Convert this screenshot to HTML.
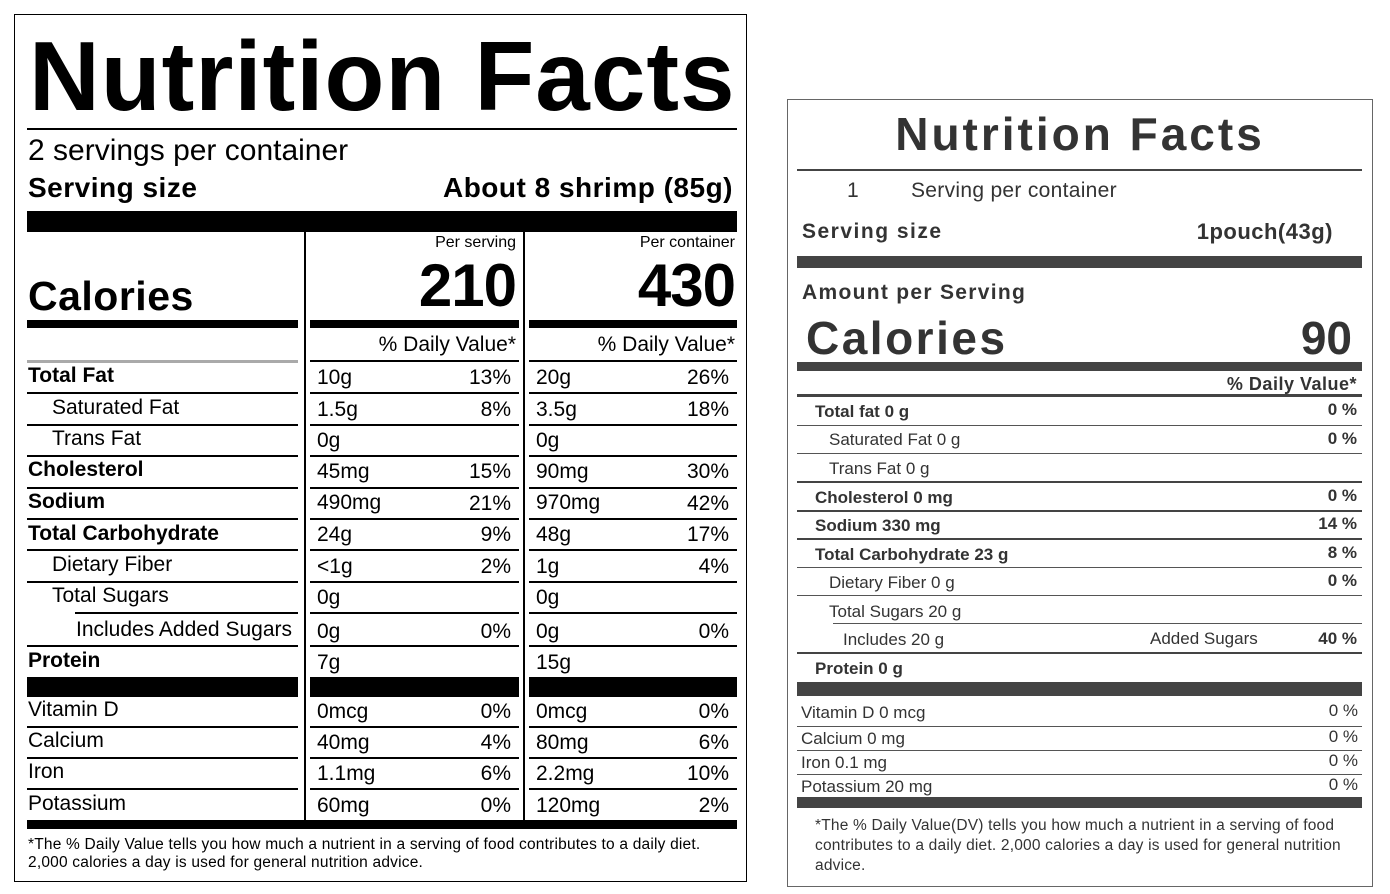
<!DOCTYPE html>
<html><head><meta charset="utf-8"><style>
body{margin:0;width:1390px;height:894px;background:#fff;position:relative;overflow:hidden;font-family:"Liberation Sans",Arial,sans-serif;}
.a{position:absolute;white-space:nowrap;}
.l{position:absolute;}
.n{font-size:21px;letter-spacing:0px;line-height:20px;}
.r{font-size:17px;line-height:16px;color:#333;}
</style></head><body>
<!-- LEFT PANEL -->
<div class="l" style="left:14px;top:14px;width:731px;height:866px;border:1.5px solid #000;"></div>
<div class="a" style="left:29px;top:26px;font-size:98px;font-weight:bold;letter-spacing:1px;line-height:100px;">Nutrition Facts</div>
<div class="l" style="left:27px;top:128px;width:710px;height:2px;background:#000"></div>
<div class="a" style="left:28px;top:136px;font-size:30px;line-height:30px;">2 servings per container</div>
<div class="a" style="left:28px;top:173px;font-size:28px;font-weight:bold;line-height:30px;letter-spacing:0.5px">Serving size</div>
<div class="a" style="right:657px;top:173px;font-size:28px;font-weight:bold;line-height:30px;letter-spacing:0.5px">About 8 shrimp (85g)</div>
<div class="l" style="left:27px;top:211px;width:710px;height:21px;background:#000"></div>
<div class="l" style="left:304px;top:232px;width:2px;height:588px;background:#000"></div>
<div class="l" style="left:523px;top:232px;width:2px;height:588px;background:#000"></div>
<div class="a" style="right:874px;top:234px;font-size:16px;">Per serving</div>
<div class="a" style="right:655px;top:234px;font-size:16px;">Per container</div>
<div class="a" style="right:874px;top:255px;font-size:60px;font-weight:bold;line-height:62px;letter-spacing:-1px;">210</div>
<div class="a" style="right:655px;top:255px;font-size:60px;font-weight:bold;line-height:62px;letter-spacing:-1px;">430</div>
<div class="a" style="left:28px;top:274px;font-size:41px;font-weight:bold;line-height:44px;letter-spacing:0.5px">Calories</div>
<div class="l" style="left:27px;top:320px;width:271px;height:8px;background:#000"></div>
<div class="l" style="left:310px;top:320px;width:209px;height:8px;background:#000"></div>
<div class="l" style="left:529px;top:320px;width:208px;height:8px;background:#000"></div>
<div class="a n" style="right:874px;top:335px;">% Daily Value*</div>
<div class="a n" style="right:655px;top:335px;">% Daily Value*</div>
<div class="l" style="left:27px;top:360px;width:271px;height:3px;background:#aaa"></div>
<div class="l" style="left:310px;top:360px;width:209px;height:2px;background:#000"></div>
<div class="l" style="left:529px;top:360px;width:208px;height:2px;background:#000"></div>

<div class="a n" style="left:28px;top:366px;font-weight:bold">Total Fat</div>
<div class="a n" style="left:317px;top:368px">10g</div><div class="a n" style="right:879px;top:368px">13%</div>
<div class="a n" style="left:536px;top:368px">20g</div><div class="a n" style="right:661px;top:368px">26%</div>

<div class="a n" style="left:52px;top:398px">Saturated Fat</div>
<div class="a n" style="left:317px;top:400px">1.5g</div><div class="a n" style="right:879px;top:400px">8%</div>
<div class="a n" style="left:536px;top:400px">3.5g</div><div class="a n" style="right:661px;top:400px">18%</div>

<div class="a n" style="left:52px;top:429px">Trans Fat</div>
<div class="a n" style="left:317px;top:431px">0g</div>
<div class="a n" style="left:536px;top:431px">0g</div>

<div class="a n" style="left:28px;top:460px;font-weight:bold">Cholesterol</div>
<div class="a n" style="left:317px;top:462px">45mg</div><div class="a n" style="right:879px;top:462px">15%</div>
<div class="a n" style="left:536px;top:462px">90mg</div><div class="a n" style="right:661px;top:462px">30%</div>

<div class="a n" style="left:28px;top:492px;font-weight:bold">Sodium</div>
<div class="a n" style="left:317px;top:493px">490mg</div><div class="a n" style="right:879px;top:494px">21%</div>
<div class="a n" style="left:536px;top:493px">970mg</div><div class="a n" style="right:661px;top:494px">42%</div>

<div class="a n" style="left:28px;top:524px;font-weight:bold">Total Carbohydrate</div>
<div class="a n" style="left:317px;top:525px">24g</div><div class="a n" style="right:879px;top:525px">9%</div>
<div class="a n" style="left:536px;top:525px">48g</div><div class="a n" style="right:661px;top:525px">17%</div>

<div class="a n" style="left:52px;top:555px">Dietary Fiber</div>
<div class="a n" style="left:317px;top:557px">&lt;1g</div><div class="a n" style="right:879px;top:557px">2%</div>
<div class="a n" style="left:536px;top:557px">1g</div><div class="a n" style="right:661px;top:557px">4%</div>

<div class="a n" style="left:52px;top:586px">Total Sugars</div>
<div class="a n" style="left:317px;top:588px">0g</div>
<div class="a n" style="left:536px;top:588px">0g</div>

<div class="a n" style="left:76px;top:620px">Includes Added Sugars</div>
<div class="a n" style="left:317px;top:622px">0g</div><div class="a n" style="right:879px;top:622px">0%</div>
<div class="a n" style="left:536px;top:622px">0g</div><div class="a n" style="right:661px;top:622px">0%</div>

<div class="a n" style="left:28px;top:651px;font-weight:bold">Protein</div>
<div class="a n" style="left:317px;top:653px">7g</div>
<div class="a n" style="left:536px;top:653px">15g</div>

<div class="l" style="left:27px;top:392px;width:271px;height:2px;background:#000"></div>
<div class="l" style="left:310px;top:392px;width:209px;height:2px;background:#000"></div>
<div class="l" style="left:27px;top:424px;width:271px;height:2px;background:#000"></div>
<div class="l" style="left:27px;top:455px;width:271px;height:2px;background:#000"></div>
<div class="l" style="left:27px;top:487px;width:271px;height:2px;background:#000"></div>
<div class="l" style="left:27px;top:518px;width:271px;height:2px;background:#000"></div>
<div class="l" style="left:27px;top:549px;width:271px;height:2px;background:#000"></div>
<div class="l" style="left:27px;top:581px;width:271px;height:2px;background:#000"></div>
<div class="l" style="left:75px;top:612px;width:223px;height:2px;background:#000"></div>
<div class="l" style="left:27px;top:645px;width:271px;height:2px;background:#000"></div>

<div class="l" style="left:310px;top:424px;width:209px;height:2px;background:#000"></div>
<div class="l" style="left:310px;top:455px;width:209px;height:2px;background:#000"></div>
<div class="l" style="left:310px;top:487px;width:209px;height:2px;background:#000"></div>
<div class="l" style="left:310px;top:518px;width:209px;height:2px;background:#000"></div>
<div class="l" style="left:310px;top:549px;width:209px;height:2px;background:#000"></div>
<div class="l" style="left:310px;top:581px;width:209px;height:2px;background:#000"></div>
<div class="l" style="left:310px;top:612px;width:209px;height:2px;background:#000"></div>
<div class="l" style="left:310px;top:645px;width:209px;height:2px;background:#000"></div>

<div class="l" style="left:529px;top:392px;width:208px;height:2px;background:#000"></div>
<div class="l" style="left:529px;top:424px;width:208px;height:2px;background:#000"></div>
<div class="l" style="left:529px;top:455px;width:208px;height:2px;background:#000"></div>
<div class="l" style="left:529px;top:487px;width:208px;height:2px;background:#000"></div>
<div class="l" style="left:529px;top:518px;width:208px;height:2px;background:#000"></div>
<div class="l" style="left:529px;top:549px;width:208px;height:2px;background:#000"></div>
<div class="l" style="left:529px;top:581px;width:208px;height:2px;background:#000"></div>
<div class="l" style="left:529px;top:612px;width:208px;height:2px;background:#000"></div>
<div class="l" style="left:529px;top:645px;width:208px;height:2px;background:#000"></div>

<div class="l" style="left:27px;top:677px;width:271px;height:20px;background:#000"></div>
<div class="l" style="left:310px;top:677px;width:209px;height:20px;background:#000"></div>
<div class="l" style="left:529px;top:677px;width:208px;height:20px;background:#000"></div>

<div class="a n" style="left:28px;top:700px">Vitamin D</div>
<div class="a n" style="left:317px;top:702px">0mcg</div><div class="a n" style="right:879px;top:702px">0%</div>
<div class="a n" style="left:536px;top:702px">0mcg</div><div class="a n" style="right:661px;top:702px">0%</div>
<div class="a n" style="left:28px;top:731px">Calcium</div>
<div class="a n" style="left:317px;top:733px">40mg</div><div class="a n" style="right:879px;top:733px">4%</div>
<div class="a n" style="left:536px;top:733px">80mg</div><div class="a n" style="right:661px;top:733px">6%</div>
<div class="a n" style="left:28px;top:762px">Iron</div>
<div class="a n" style="left:317px;top:764px">1.1mg</div><div class="a n" style="right:879px;top:764px">6%</div>
<div class="a n" style="left:536px;top:764px">2.2mg</div><div class="a n" style="right:661px;top:764px">10%</div>
<div class="a n" style="left:28px;top:794px">Potassium</div>
<div class="a n" style="left:317px;top:796px">60mg</div><div class="a n" style="right:879px;top:796px">0%</div>
<div class="a n" style="left:536px;top:796px">120mg</div><div class="a n" style="right:661px;top:796px">2%</div>

<div class="l" style="left:27px;top:726px;width:271px;height:2px;background:#000"></div>
<div class="l" style="left:27px;top:757px;width:271px;height:2px;background:#000"></div>
<div class="l" style="left:27px;top:788px;width:271px;height:2px;background:#000"></div>
<div class="l" style="left:310px;top:726px;width:209px;height:2px;background:#000"></div>
<div class="l" style="left:310px;top:757px;width:209px;height:2px;background:#000"></div>
<div class="l" style="left:310px;top:788px;width:209px;height:2px;background:#000"></div>
<div class="l" style="left:529px;top:726px;width:208px;height:2px;background:#000"></div>
<div class="l" style="left:529px;top:757px;width:208px;height:2px;background:#000"></div>
<div class="l" style="left:529px;top:788px;width:208px;height:2px;background:#000"></div>

<div class="l" style="left:27px;top:820px;width:710px;height:9px;background:#000"></div>
<div class="a" style="left:28px;top:836px;font-size:15.5px;letter-spacing:0.2px;line-height:18px;">*The % Daily Value tells you how much a nutrient in a serving of food contributes to a daily diet.<br>2,000 calories a day is used for general nutrition advice.</div>

<!-- RIGHT PANEL -->
<div class="l" style="left:787px;top:99px;width:584px;height:786px;border:1.5px solid #666;"></div>
<div class="a" style="left:787px;width:586px;text-align:center;top:110px;font-size:46px;font-weight:bold;color:#333;letter-spacing:3px;line-height:48px;">Nutrition Facts</div>
<div class="l" style="left:797px;top:169px;width:565px;height:2px;background:#444"></div>
<div class="a" style="left:847px;top:179px;font-size:21px;color:#333">1</div>
<div class="a" style="left:911px;top:179px;font-size:21px;color:#333;letter-spacing:0.3px">Serving per container</div>
<div class="a" style="left:802px;top:220px;font-size:21px;font-weight:bold;color:#333;letter-spacing:1.5px">Serving size</div>
<div class="a" style="right:57px;top:219px;font-size:22px;font-weight:bold;color:#333;letter-spacing:0.5px">1pouch(43g)</div>
<div class="l" style="left:797px;top:256px;width:565px;height:12px;background:#444"></div>
<div class="a" style="left:802px;top:281px;font-size:21px;font-weight:bold;color:#333;letter-spacing:1.3px">Amount per Serving</div>
<div class="a" style="left:806px;top:314px;font-size:46px;font-weight:bold;color:#333;line-height:48px;letter-spacing:2.5px">Calories</div>
<div class="a" style="right:38px;top:314px;font-size:46px;font-weight:bold;color:#333;line-height:48px">90</div>
<div class="l" style="left:797px;top:362px;width:565px;height:9px;background:#444"></div>
<div class="a" style="right:33px;top:374px;font-size:18px;font-weight:bold;color:#333;letter-spacing:0.5px">% Daily Value*</div>
<div class="l" style="left:797px;top:394px;width:565px;height:3px;background:#444"></div>

<div class="a r" style="left:815px;top:404px;font-weight:bold">Total fat 0 g</div><div class="a r" style="right:33px;top:402px;font-weight:bold">0 %</div>
<div class="a r" style="left:829px;top:432px">Saturated Fat 0 g</div><div class="a r" style="right:33px;top:431px;font-weight:bold">0 %</div>
<div class="a r" style="left:829px;top:461px">Trans Fat 0 g</div>
<div class="a r" style="left:815px;top:490px;font-weight:bold">Cholesterol 0 mg</div><div class="a r" style="right:33px;top:488px;font-weight:bold">0 %</div>
<div class="a r" style="left:815px;top:518px;font-weight:bold">Sodium 330 mg</div><div class="a r" style="right:33px;top:516px;font-weight:bold">14 %</div>
<div class="a r" style="left:815px;top:547px;font-weight:bold">Total Carbohydrate 23 g</div><div class="a r" style="right:33px;top:545px;font-weight:bold">8 %</div>
<div class="a r" style="left:829px;top:575px">Dietary Fiber 0 g</div><div class="a r" style="right:33px;top:573px;font-weight:bold">0 %</div>
<div class="a r" style="left:829px;top:604px">Total Sugars 20 g</div>
<div class="a r" style="left:843px;top:632px">Includes 20 g</div><div class="a r" style="left:1150px;top:631px">Added Sugars</div><div class="a r" style="right:33px;top:631px;font-weight:bold">40 %</div>
<div class="a r" style="left:815px;top:661px;font-weight:bold">Protein 0 g</div>

<div class="l" style="left:797px;top:425px;width:565px;height:1px;background:#555"></div>
<div class="l" style="left:797px;top:453px;width:565px;height:1px;background:#555"></div>
<div class="l" style="left:797px;top:481px;width:565px;height:2px;background:#444"></div>
<div class="l" style="left:797px;top:510px;width:565px;height:2px;background:#444"></div>
<div class="l" style="left:797px;top:538px;width:565px;height:2px;background:#444"></div>
<div class="l" style="left:797px;top:567px;width:565px;height:1px;background:#555"></div>
<div class="l" style="left:797px;top:595px;width:565px;height:1px;background:#555"></div>
<div class="l" style="left:833px;top:623px;width:529px;height:1px;background:#555"></div>
<div class="l" style="left:797px;top:652px;width:565px;height:2px;background:#444"></div>
<div class="l" style="left:797px;top:682px;width:565px;height:14px;background:#444"></div>

<div class="a" style="left:801px;top:703px;font-size:17px;color:#333">Vitamin D 0 mcg</div><div class="a" style="right:32px;top:701px;font-size:17px;color:#333">0 %</div>
<div class="a" style="left:801px;top:729px;font-size:17px;color:#333">Calcium 0 mg</div><div class="a" style="right:32px;top:727px;font-size:17px;color:#333">0 %</div>
<div class="a" style="left:801px;top:753px;font-size:17px;color:#333">Iron 0.1 mg</div><div class="a" style="right:32px;top:751px;font-size:17px;color:#333">0 %</div>
<div class="a" style="left:801px;top:777px;font-size:17px;color:#333">Potassium 20 mg</div><div class="a" style="right:32px;top:775px;font-size:17px;color:#333">0 %</div>
<div class="l" style="left:797px;top:726px;width:565px;height:1px;background:#555"></div>
<div class="l" style="left:797px;top:750px;width:565px;height:1px;background:#555"></div>
<div class="l" style="left:797px;top:774px;width:565px;height:1px;background:#555"></div>
<div class="l" style="left:797px;top:797px;width:565px;height:11px;background:#444"></div>
<div class="a" style="left:815px;top:816px;font-size:15.5px;line-height:20px;color:#333;letter-spacing:0.2px">*The % Daily Value(DV) tells you how much a nutrient in a serving of food<br>contributes to a daily diet. 2,000 calories a day is used for general nutrition<br>advice.</div>
</body></html>
